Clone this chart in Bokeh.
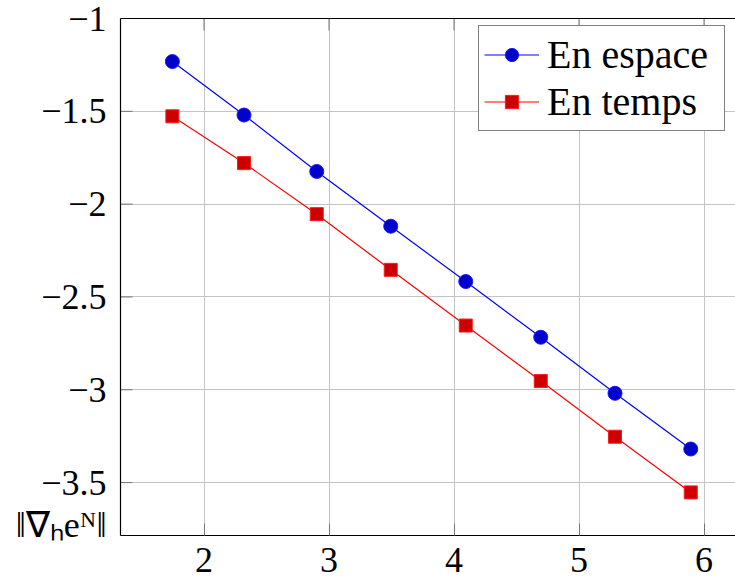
import math
from bokeh.plotting import figure
from bokeh.models import Range1d, FixedTicker, LinearAxis, Legend, LegendItem
from bokeh.embed import file_html
from bokeh.resources import INLINE

# ---- data ----
x_vals = [1.747, 2.320, 2.902, 3.494, 4.094, 4.694, 5.288, 5.894]
espace = [-1.232, -1.520, -1.824, -2.119, -2.417, -2.717, -3.019, -3.319]
temps = [-1.527, -1.779, -2.054, -2.354, -2.654, -2.953, -3.253, -3.553]
series_names = ["En espace", "En temps"]
x_ticks = [2, 3, 4, 5, 6]
x_tick_labels = ["2", "3", "4", "5", "6"]
y_ticks = [-3.5, -3.0, -2.5, -2.0, -1.5, -1.0]
y_tick_labels = ["\u22123.5", "\u22123", "\u22122.5", "\u22122", "\u22121.5", "\u22121"]
y_title = "\u2016\u2207\u2095e\u1d3a\u2016"
y_title_pos = -3.728

X0, X1 = 1.332, 1.332 + 615 / 125.0
Y0, Y1 = -3.785, -1.0

SERIF = "Liberation Serif"
TICK_COLOR = "#777777"

p = figure(width=735, height=583, output_backend="svg", toolbar_location=None,
           x_range=Range1d(X0, X1), y_range=Range1d(Y0, Y1),
           min_border_left=120, min_border_right=0, min_border_top=18, min_border_bottom=48,
           x_axis_location=None, y_axis_location=None)
p.outline_line_color = None
p.background_fill_color = "white"
p.border_fill_color = "white"

# bottom axis
xb = LinearAxis()
xb.ticker = FixedTicker(ticks=x_ticks)
xb.major_label_overrides = {float(t): l for t, l in zip(x_ticks, x_tick_labels)}
xb.minor_tick_line_color = None
xb.major_tick_in = 12
xb.major_tick_out = 0
xb.major_tick_line_color = TICK_COLOR
xb.axis_line_color = "black"
xb.axis_line_width = 1.2
xb.major_label_text_font = SERIF
xb.major_label_text_font_size = "36px"
xb.major_label_text_color = "black"
xb.major_label_standoff = 12
p.add_layout(xb, "below")

# left axis (tick marks drawn as rays, label of quantity as extra tick label)
yl = LinearAxis()
yl.ticker = FixedTicker(ticks=y_ticks + [y_title_pos])
ov = {float(t): l for t, l in zip(y_ticks, y_tick_labels)}
ov[float(y_title_pos)] = y_title
yl.major_label_overrides = ov
yl.minor_tick_line_color = None
yl.major_tick_in = 0
yl.major_tick_out = 0
yl.axis_line_color = "black"
yl.axis_line_width = 1.2
yl.major_label_text_font = SERIF
yl.major_label_text_font_size = "36px"
yl.major_label_text_color = "black"
yl.major_label_standoff = 14
p.add_layout(yl, "left")

# top axis: line only
xt = LinearAxis()
xt.ticker = FixedTicker(ticks=[])
xt.minor_tick_line_color = None
xt.major_tick_line_color = None
xt.axis_line_color = "black"
xt.axis_line_width = 1.2
xt.major_label_standoff = 0
p.add_layout(xt, "above")

p.xgrid.ticker = FixedTicker(ticks=x_ticks)
p.ygrid.ticker = FixedTicker(ticks=y_ticks)
for g in (p.xgrid, p.ygrid):
    g.grid_line_color = "#c4c4c4"
    g.grid_line_width = 1

# inward tick marks on left and top edges
p.ray(x=[X0] * len(y_ticks), y=y_ticks, length=12, length_units="screen", angle=0,
      line_color=TICK_COLOR, line_width=1)
p.ray(x=x_ticks, y=[Y1] * len(x_ticks), length=12, length_units="screen", angle=-math.pi / 2,
      line_color=TICK_COLOR, line_width=1)

l1 = p.line(x_vals, espace, line_color="#0000ff", line_width=1.2)
m1 = p.scatter(x_vals, espace, marker="circle", size=14, fill_color="#0000cc",
               line_color="#1a1aff", line_width=1)
l2 = p.line(x_vals, temps, line_color="#ff0000", line_width=1.2)
m2 = p.scatter(x_vals, temps, marker="square", size=13, fill_color="#cc0000",
               line_color="#ff1a1a", line_width=1)

legend = Legend(items=[LegendItem(label=series_names[0], renderers=[l1, m1]),
                       LegendItem(label=series_names[1], renderers=[l2, m2])],
                location=(358, 404))
legend.label_text_font = SERIF
legend.label_text_font_size = "40px"
legend.label_text_color = "black"
legend.glyph_width = 55
legend.glyph_height = 33
legend.label_height = 40
legend.label_width = 172
legend.label_standoff = 8
legend.spacing = 0
legend.padding = 5
legend.margin = 0
legend.border_line_color = "black"
legend.border_line_width = 1
legend.background_fill_alpha = 1
p.add_layout(legend)

open("out.html", "w").write(file_html(p, INLINE))
